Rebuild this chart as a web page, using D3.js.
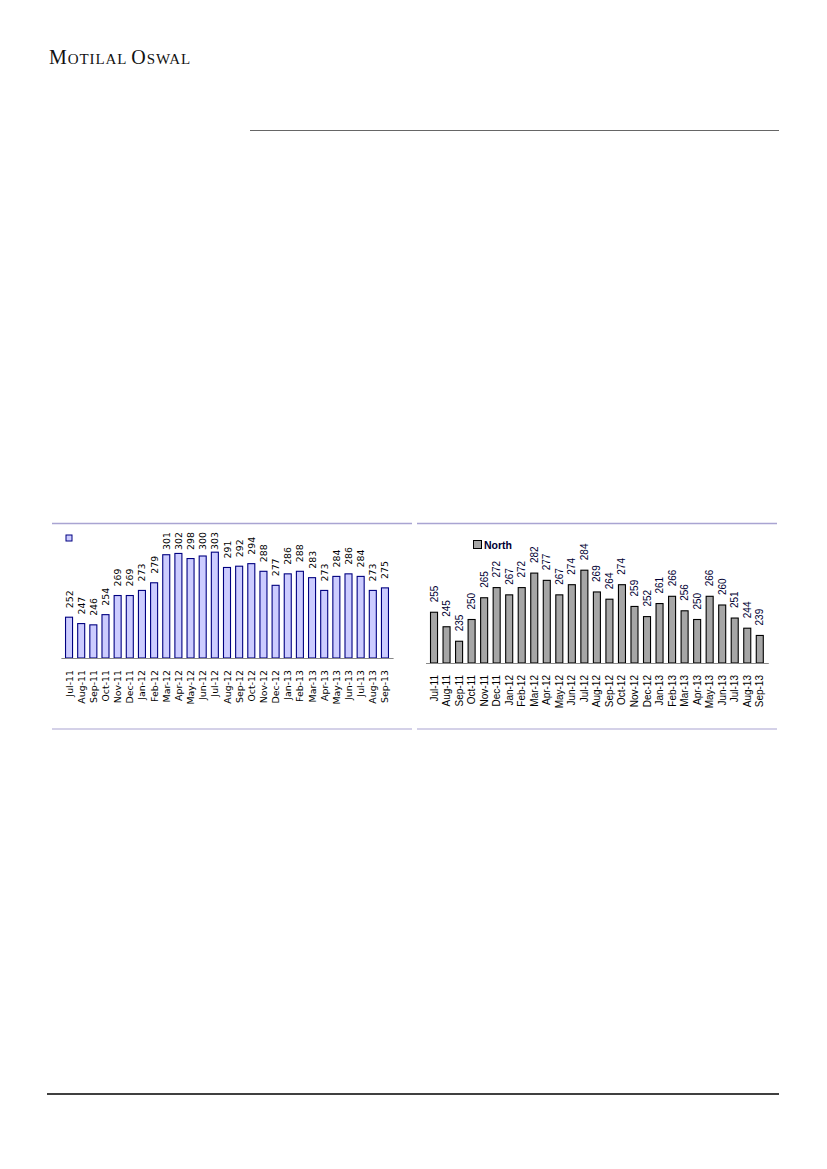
<!DOCTYPE html>
<html><head><meta charset="utf-8">
<script src="https://cdn.jsdelivr.net/npm/d3@7"></script>
<style>body{margin:0;background:#fff}svg{display:block}</style>
</head><body>
<script>
const months = ["Jul-11","Aug-11","Sep-11","Oct-11","Nov-11","Dec-11","Jan-12","Feb-12","Mar-12","Apr-12","May-12","Jun-12","Jul-12","Aug-12","Sep-12","Oct-12","Nov-12","Dec-12","Jan-13","Feb-13","Mar-13","Apr-13","May-13","Jun-13","Jul-13","Aug-13","Sep-13"];
const leftValues = [252,247,246,254,269,269,273,279,301,302,298,300,303,291,292,294,288,277,286,288,283,273,284,286,284,273,275];
const rightSeriesName = "North";
const rightValues = [255,245,235,250,265,272,267,272,282,277,267,274,284,269,264,274,259,252,261,266,256,250,266,260,251,244,239];

const W = 827, H = 1169;
const svg = d3.select("body").append("svg").attr("width", W).attr("height", H);

// header (small caps built from two sizes)
const brand = svg.append("text").attr("x", 49).attr("y", 64)
  .attr("font-family", "'Liberation Serif','DejaVu Serif',serif")
  .attr("letter-spacing", 0.9).attr("fill", "#111");
[["M",20],["OTILAL ",15],["O",20],["SWAL",15]].forEach(([t,s]) =>
  brand.append("tspan").attr("font-size", s).text(t));
svg.append("line").attr("x1", 250).attr("x2", 779).attr("y1", 130.5).attr("y2", 130.5)
  .attr("stroke", "#666").attr("stroke-width", 1);
svg.append("line").attr("x1", 47).attr("x2", 779).attr("y1", 1094).attr("y2", 1094)
  .attr("stroke", "#000").attr("stroke-width", 1.3);

// frames
const frameColor = "#a9a4d2";
[[52,412],[417,777]].forEach(([a,b]) => {
  svg.append("line").attr("x1", a).attr("x2", b).attr("y1", 523.5).attr("y2", 523.5).attr("stroke", frameColor).attr("stroke-width", 1.5);
  svg.append("line").attr("x1", a).attr("x2", b).attr("y1", 729).attr("y2", 729).attr("stroke", frameColor).attr("stroke-width", 1.2);
});

function drawChart(opts) {
  const g = svg.append("g");
  const x = d3.scaleBand().domain(months).range(opts.xr).paddingInner(opts.pad).paddingOuter(opts.pad);
  const y = d3.scaleLinear().domain(opts.yd).range(opts.yr);
  const data = months.map((m, i) => ({m, v: opts.values[i]}));
  g.selectAll("rect.bar").data(data).join("rect").attr("class", "bar")
    .attr("x", d => x(d.m) + 0.5).attr("width", x.bandwidth() - 1)
    .attr("y", d => y(d.v)).attr("height", d => y(opts.yd[0]) - y(d.v))
    .attr("fill", opts.fill).attr("stroke", opts.stroke).attr("stroke-width", 1.1);
  const axis = d3.axisBottom(x).tickSize(0).tickPadding(0);
  const ag = g.append("g").attr("transform", `translate(0,${opts.yr[0]})`).call(axis);
  ag.select(".domain").attr("stroke", "#888").attr("stroke-width", 1.2);
  ag.selectAll(".tick text")
    .attr("font-family", opts.catFont).attr("font-size", opts.catSize).attr("fill", opts.catColor)
    .attr("text-anchor", "end").attr("dy", null)
    .attr("transform", `translate(3.5,${opts.catOff}) rotate(-90)`)
    .attr("y", 0);
  g.selectAll("text.val").data(data).join("text").attr("class", "val")
    .attr("transform", d => {
      const cx = x(d.m) + x.bandwidth() / 2 + 3.5;
      const ty = Math.max(y(d.v) - opts.gap, opts.minLab);
      return `translate(${cx},${ty}) rotate(-90)`;
    })
    .attr("font-family", opts.valFont).attr("font-size", opts.valSize).attr("fill", opts.valColor)
    .attr("text-anchor", "start").text(d => d.v);
  return {x, y, g};
}

drawChart({
  values: leftValues, xr: [60.9, 393.1], pad: 0.34, yd: [220, 320], yr: [658, 530.5],
  fill: "#ccccff", stroke: "#000080",
  catFont: "'DejaVu Sans',Verdana,sans-serif", catSize: 9.4, catColor: "#000", catOff: 12,
  valFont: "'DejaVu Sans',Verdana,sans-serif", valSize: 9.4, valColor: "#000", gap: 9, minLab: 550
});
svg.append("rect").attr("x", 66).attr("y", 535).attr("width", 6).attr("height", 6)
  .attr("fill", "#ccccff").attr("stroke", "#000080").attr("stroke-width", 1);

drawChart({
  values: rightValues, xr: [425.5, 768.3], pad: 0.36, yd: [220, 300], yr: [663, 547],
  fill: "#a6a6a6", stroke: "#000",
  catFont: "'Liberation Sans',Arial,sans-serif", catSize: 10, catColor: "#000", catOff: 12,
  valFont: "'Liberation Sans',Arial,sans-serif", valSize: 10, valColor: "#000033", gap: 10, minLab: 560
});
svg.append("rect").attr("x", 473.5).attr("y", 540.5).attr("width", 8).attr("height", 8)
  .attr("fill", "#a6a6a6").attr("stroke", "#000").attr("stroke-width", 1);
svg.append("text").attr("x", 484).attr("y", 549)
  .attr("font-family", "'Liberation Sans',Arial,sans-serif").attr("font-size", 10.5).attr("font-weight", "bold")
  .attr("fill", "#000033").text(rightSeriesName);
</script>
</body></html>
